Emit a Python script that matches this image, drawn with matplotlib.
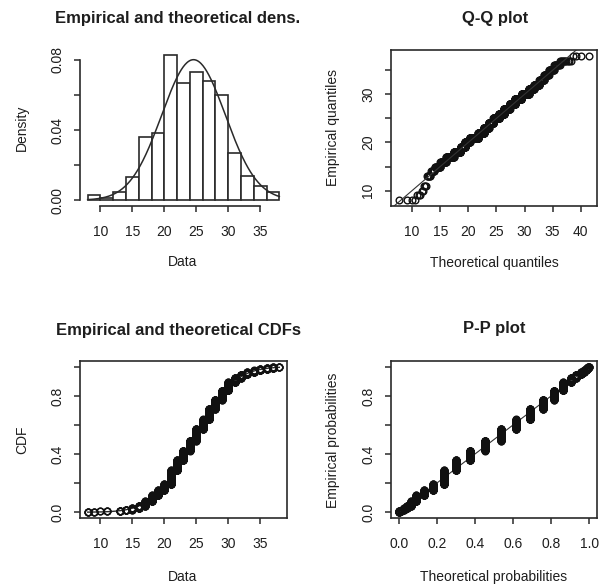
import math
import numpy as np
import matplotlib
matplotlib.use("Agg")
import matplotlib.pyplot as plt

values = np.arange(8, 39)
counts = [4, 3, 2, 3, 0, 6, 8, 16, 24, 48, 62, 54, 62, 146, 106, 100, 104,
          122, 100, 110, 96, 96, 86, 46, 36, 24, 18, 14, 10, 10, 4]
hist_breaks = np.arange(8, 40, 2)

titles = ["Empirical and theoretical dens.", "Q-Q plot",
          "Empirical and theoretical CDFs", "P-P plot"]
xlabels = ["Data", "Theoretical quantiles", "Data", "Theoretical probabilities"]
ylabels = ["Density", "Empirical quantiles", "CDF", "Empirical probabilities"]

data = np.sort(np.repeat(values, counts)).astype(float)
n = data.size
mu = data.mean()
sd = data.std()


def norm_pdf(x):
    return np.exp(-0.5 * ((x - mu) / sd) ** 2) / (sd * math.sqrt(2 * math.pi))


def norm_cdf(x):
    return np.array([0.5 * (1 + math.erf((v - mu) / (sd * math.sqrt(2)))) for v in x])


def std_ppf(p):
    a = [-3.969683028665376e+01, 2.209460984245205e+02, -2.759285104469687e+02,
         1.383577518672690e+02, -3.066479806614716e+01, 2.506628277459239e+00]
    b = [-5.447609879822406e+01, 1.615858368580409e+02, -1.556989798598866e+02,
         6.680131188771972e+01, -1.328068155288572e+01]
    c = [-7.784894002430293e-03, -3.223964580411365e-01, -2.400758277161838e+00,
         -2.549732539343734e+00, 4.374664141464968e+00, 2.938163982698783e+00]
    d = [7.784695709041462e-03, 3.224671290700398e-01, 2.445134137142996e+00,
         3.754408661907416e+00]
    out = []
    for q in p:
        if q < 0.02425:
            r = math.sqrt(-2 * math.log(q))
            z = (((((c[0]*r+c[1])*r+c[2])*r+c[3])*r+c[4])*r+c[5]) / ((((d[0]*r+d[1])*r+d[2])*r+d[3])*r+1)
        elif q > 1 - 0.02425:
            r = math.sqrt(-2 * math.log(1 - q))
            z = -(((((c[0]*r+c[1])*r+c[2])*r+c[3])*r+c[4])*r+c[5]) / ((((d[0]*r+d[1])*r+d[2])*r+d[3])*r+1)
        else:
            r = q - 0.5
            s = r * r
            z = (((((a[0]*s+a[1])*s+a[2])*s+a[3])*s+a[4])*s+a[5])*r / (((((b[0]*s+b[1])*s+b[2])*s+b[3])*s+b[4])*s+1)
        out.append(z)
    return np.array(out)


pp = (np.arange(1, n + 1) - 0.5) / n
theo_q = mu + sd * std_ppf(pp)
theo_p = norm_cdf(data)

# right-closed histogram bins (R style): [8,10], (10,12], ...
shifted = np.r_[hist_breaks[0] - 0.5, hist_breaks[1:] + 0.5]
hcounts, _ = np.histogram(data, bins=shifted)
dens = hcounts / (n * np.diff(hist_breaks))

# ---- styling ----
W, H = 603, 588
plt.rcParams['font.family'] = ['Liberation Sans', 'DejaVu Sans']
TXT = '#1e1e1e'
LC = '#2a2a2a'
fig = plt.figure(figsize=(W / 100, H / 100), dpi=100)


def add_ax(l, t, r, b):
    return fig.add_axes([l / W, 1 - b / H, (r - l) / W, (b - t) / H])


def pad(lo, hi):
    d = (hi - lo) * 0.04
    return lo - d, hi + d


def style(ax, box=True):
    for s in ax.spines.values():
        s.set_linewidth(1.2)
        s.set_color(LC)
        s.set_visible(box)
    ax.tick_params(direction='out', length=4.5, width=1.1, color=LC,
                   labelsize=10, labelcolor=TXT)
    ax.tick_params(axis='x', pad=9)
    ax.tick_params(axis='y', pad=7)
    for lab in ax.get_yticklabels():
        lab.set_rotation(90)
        lab.set_va('center')


rects = [(80, 49, 287, 206), (391, 50, 597, 206), (80, 361, 287, 518), (391, 361, 597, 518)]
axs = [add_ax(*r) for r in rects]
mk = dict(marker='o', ms=4.8, mfc='none', mec='#111111', mew=1.0, ls='none')

# 1. histogram + density
ax = axs[0]
ax.bar(hist_breaks[:-1], dens, width=np.diff(hist_breaks), align='edge',
       facecolor='white', edgecolor=LC, linewidth=1.2)
xs = np.linspace(hist_breaks[0], hist_breaks[-1], 300)
ax.plot(xs, norm_pdf(xs), color=LC, lw=1.1)
ymax = max(dens.max(), norm_pdf(xs).max())
ax.set_xlim(*pad(hist_breaks[0], hist_breaks[-1]))
ax.set_ylim(*pad(0, ymax))
ax.set_xticks(np.arange(10, 40, 5))
ax.set_yticks([0, 0.02, 0.04, 0.06, 0.08], labels=['0.00', '', '0.04', '', '0.08'])
style(ax, box=False)
ax.spines['left'].set_visible(True)
ax.spines['bottom'].set_visible(True)
ax.spines['left'].set_bounds(0, 0.08)
ax.spines['bottom'].set_bounds(10, 35)

# 2. Q-Q
ax = axs[1]
ax.plot(theo_q, data, **mk)
ax.set_xlim(*pad(theo_q.min(), theo_q.max()))
ax.set_ylim(*pad(data.min(), data.max()))
ax.plot([0, 50], [0, 50], color='#333333', lw=0.8)
ax.set_xticks(np.arange(10, 45, 5))
ax.set_yticks(np.arange(10, 40, 5), labels=['10', '', '20', '', '30', ''])
style(ax)

# 3. CDF
ax = axs[2]
xs = np.linspace(data.min(), data.max(), 300)
ax.plot(xs, norm_cdf(xs), color=LC, lw=1.0)
ax.plot(data, pp, **mk)
ax.set_xlim(*pad(data.min(), data.max()))
ax.set_ylim(*pad(0, 1))
ax.set_xticks(np.arange(10, 40, 5))
ax.set_yticks(np.arange(0, 1.01, 0.2), labels=['0.0', '', '0.4', '', '0.8', ''])
style(ax)

# 4. P-P
ax = axs[3]
ax.plot([0, 1], [0, 1], color='#333333', lw=0.8)
ax.plot(theo_p, pp, **mk)
ax.set_xlim(*pad(0, 1))
ax.set_ylim(*pad(0, 1))
ax.set_xticks(np.arange(0, 1.01, 0.2), labels=['0.0', '0.2', '0.4', '0.6', '0.8', '1.0'])
ax.set_yticks(np.arange(0, 1.01, 0.2), labels=['0.0', '', '0.4', '', '0.8', ''])
style(ax)

# titles and axis labels
title_pos = [(178, 18), (495, 18), (179, 330), (494, 329)]
xlab_pos = [(183, 262), (494, 263), (183, 577), (494, 577)]
ylab_pos = [(22, 128), (333, 128), (22, 440), (333, 440)]
for i in range(4):
    fig.text(title_pos[i][0] / W, 1 - title_pos[i][1] / H, titles[i], ha='center', va='center',
             fontsize=12, fontweight='bold', color=TXT)
    fig.text(xlab_pos[i][0] / W, 1 - xlab_pos[i][1] / H, xlabels[i], ha='center', va='center',
             fontsize=10, color=TXT)
    fig.text(ylab_pos[i][0] / W, 1 - ylab_pos[i][1] / H, ylabels[i], ha='center', va='center',
             fontsize=10, color=TXT, rotation=90)

fig.savefig('out.png', dpi=100, facecolor='white')
